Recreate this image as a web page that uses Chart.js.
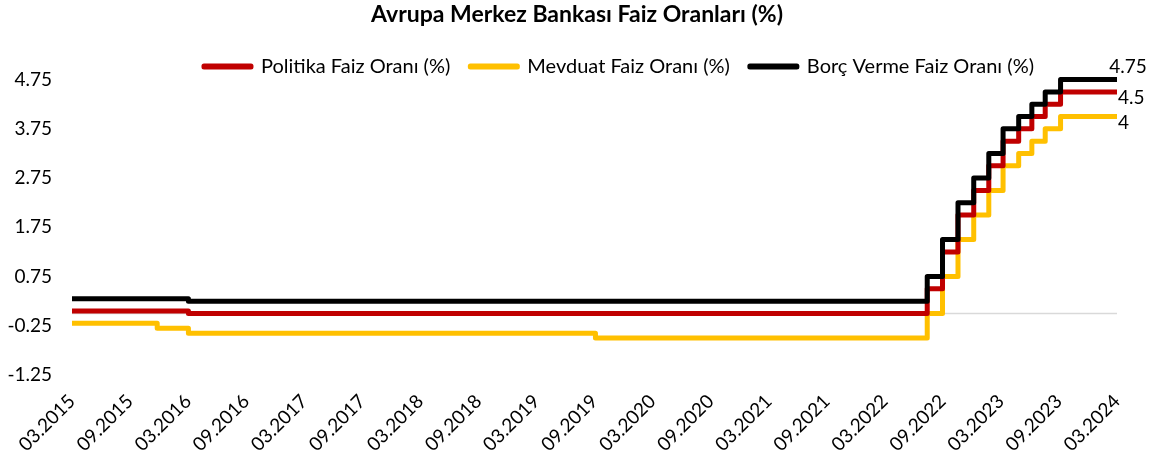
<!DOCTYPE html>
<html lang="tr">
<head>
<meta charset="utf-8">
<title>Avrupa Merkez Bankası Faiz Oranları</title>
<script src="https://cdn.jsdelivr.net/npm/chart.js@4.4.1/dist/chart.umd.min.js"></script>
<style>
  html, body { margin: 0; padding: 0; background: #ffffff; }
  #wrap { width: 1155px; height: 465px; }
</style>
</head>
<body>
<div id="wrap"><canvas id="faizChart" width="1155" height="465"></canvas></div>
<script>
/* ============================================
   DATA
   ============================================ */

// Dates where at least one rate changes (first / last entries bound the period)
const changeDates = [
  '2015-03-15', '2015-12-09', '2016-03-16', '2019-09-18',
  '2022-07-27', '2022-09-14', '2022-11-02', '2022-12-21',
  '2023-02-08', '2023-03-22', '2023-05-10', '2023-06-21',
  '2023-08-02', '2023-09-20', '2024-03-15'
];

const politikaFaiz  = [0.05, 0.05, 0, 0, 0.5, 1.25, 2, 2.5, 3, 3.5, 3.75, 4, 4.25, 4.5, 4.5];
const mevduatFaiz   = [-0.2, -0.3, -0.4, -0.5, 0, 0.75, 1.5, 2, 2.5, 3, 3.25, 3.5, 3.75, 4, 4];
const borcVermeFaiz = [0.3, 0.3, 0.25, 0.25, 0.75, 1.5, 2.25, 2.75, 3.25, 3.75, 4, 4.25, 4.5, 4.75, 4.75];

const xTickLabels = [
  '03.2015', '09.2015', '03.2016', '09.2016', '03.2017', '09.2017', '03.2018',
  '09.2018', '03.2019', '09.2019', '03.2020', '09.2020', '03.2021', '09.2021',
  '03.2022', '09.2022', '03.2023', '09.2023', '03.2024'
];
const yTickValues = [-1.25, -0.25, 0.75, 1.75, 2.75, 3.75, 4.75];

/* ============================================
   HELPERS
   ============================================ */

// Months elapsed since mid March 2015 (the first axis label)
function toMonths(dateStr) {
  const [y, m, d] = dateStr.split('-').map(Number);
  const daysInMonth = new Date(y, m, 0).getDate();
  return (y - 2015) * 12 + (m - 3) + (d - 15) / daysInMonth;
}

function toPoints(values) {
  return changeDates.map((d, i) => ({ x: toMonths(d), y: values[i] }));
}

const FONT = 'Lato, "Liberation Sans", Arial, sans-serif';
Chart.defaults.font.family = FONT;
Chart.defaults.color = '#000000';

/* ============================================
   PLUGINS
   ============================================ */

// Tighter legend box and Excel-like header placement
const headerPlugin = {
  id: 'headerPlugin',
  beforeLayout(chart) {
    const legend = chart.legend;
    if (legend && !legend.fitPatched) {
      const origFit = legend.fit;
      legend.fit = function() {
        origFit.call(this);
        this.height = 43;
      };
      legend.fitPatched = true;
    }
  },
  afterLayout(chart) {
    const title = chart.titleBlock;
    if (title) {
      const dx = 577 - (title.left + title.right) / 2;
      title.left += dx;
      title.right += dx;
    }
    const legend = chart.legend;
    if (legend) {
      const dx = 619 - (legend.left + legend.right) / 2;
      legend.left += dx;
      legend.right += dx;
    }
  }
};

// Light grey horizontal line at zero
const zeroLinePlugin = {
  id: 'zeroLine',
  beforeDatasetsDraw(chart) {
    const { ctx, chartArea, scales } = chart;
    const y = scales.y.getPixelForValue(0);
    ctx.save();
    ctx.strokeStyle = '#d9d9d9';
    ctx.lineWidth = 1.5;
    ctx.beginPath();
    ctx.moveTo(chartArea.left, y);
    ctx.lineTo(chartArea.right, y);
    ctx.stroke();
    ctx.restore();
  }
};

// Value label on the last point of each series
const endLabelPlugin = {
  id: 'endLabels',
  afterDatasetsDraw(chart) {
    const ctx = chart.ctx;
    ctx.save();
    ctx.font = '19px ' + FONT;
    ctx.fillStyle = '#000000';
    ctx.textBaseline = 'middle';
    chart.data.datasets.forEach((ds, i) => {
      const meta = chart.getDatasetMeta(i);
      const last = meta.data[meta.data.length - 1];
      const value = ds.data[ds.data.length - 1].y;
      if (ds.endLabel === 'above') {
        ctx.textAlign = 'center';
        ctx.fillText(String(value), last.x + 11, last.y - 13);
      } else {
        ctx.textAlign = 'left';
        ctx.fillText(String(value), last.x + 1, last.y + 6);
      }
    });
    ctx.restore();
  }
};

/* ============================================
   CHART
   ============================================ */
const lineDefaults = {
  borderWidth: 5,
  stepped: true,
  pointRadius: 0,
  pointHoverRadius: 0,
  fill: false,
  tension: 0,
  clip: false,
  borderJoinStyle: 'round'
};

const ctx = document.getElementById('faizChart').getContext('2d');

new Chart(ctx, {
  type: 'line',
  data: {
    datasets: [
      Object.assign({}, lineDefaults, {
        label: 'Politika Faiz Oranı (%)',
        data: toPoints(politikaFaiz),
        borderColor: '#c00000',
        backgroundColor: '#c00000',
        endLabel: 'right',
        order: 1
      }),
      Object.assign({}, lineDefaults, {
        label: 'Mevduat Faiz Oranı (%)',
        data: toPoints(mevduatFaiz),
        borderColor: '#ffc000',
        backgroundColor: '#ffc000',
        endLabel: 'right',
        order: 2
      }),
      Object.assign({}, lineDefaults, {
        label: 'Borç Verme Faiz Oranı (%)',
        data: toPoints(borcVermeFaiz),
        borderColor: '#000000',
        backgroundColor: '#000000',
        endLabel: 'above',
        order: 0
      })
    ]
  },
  options: {
    responsive: false,
    animation: false,
    layout: {
      padding: { left: 0, right: 38, top: 0, bottom: 0 }
    },
    plugins: {
      title: {
        display: true,
        text: 'Avrupa Merkez Bankası Faiz Oranları (%)',
        color: '#000000',
        font: { size: 23, weight: 'bold' },
        padding: { top: 1, bottom: 8 }
      },
      legend: {
        position: 'top',
        labels: {
          boxWidth: 47,
          boxHeight: 1,
          padding: 20,
          color: '#000000',
          font: { size: 20 },
          sort: (a, b) => a.datasetIndex - b.datasetIndex
        }
      },
      tooltip: { enabled: false }
    },
    scales: {
      x: {
        type: 'linear',
        min: 0,
        max: 108,
        grid: { display: false },
        border: { display: false },
        afterBuildTicks(scale) {
          scale.ticks = xTickLabels.map((_, i) => ({ value: i * 6 }));
        },
        afterFit(scale) {
          scale.height = 90;
        },
        ticks: {
          autoSkip: false,
          minRotation: 45,
          maxRotation: 45,
          padding: 7,
          color: '#000000',
          font: { size: 19 },
          callback: (value, index) => xTickLabels[index]
        }
      },
      y: {
        min: -1.25,
        max: 4.75,
        grid: { display: false },
        border: { display: false },
        afterBuildTicks(scale) {
          scale.ticks = yTickValues.map(v => ({ value: v }));
        },
        afterFit(scale) {
          scale.width = 72;
        },
        ticks: {
          padding: 12,
          color: '#000000',
          font: { size: 19 },
          callback: value => value.toFixed(2)
        }
      }
    }
  },
  plugins: [headerPlugin, zeroLinePlugin, endLabelPlugin]
});
</script>
</body>
</html>
